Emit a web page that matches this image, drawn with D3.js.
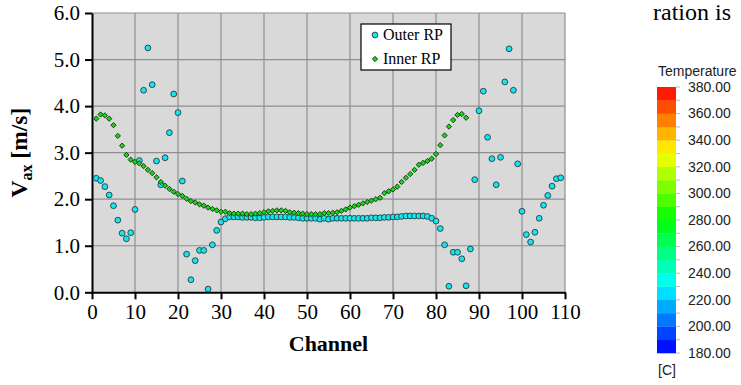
<!DOCTYPE html>
<html>
<head>
<meta charset="utf-8">
<script src="https://cdn.jsdelivr.net/npm/d3@7"></script>
<style>
  body { margin: 0; background: #fff; }
  svg { display: block; }
</style>
</head>
<body>
<div id="chart"></div>
<script>
// Outer RP, channels 1..109
const outerRP = [
  2.45, 2.40, 2.27, 2.09, 1.86, 1.55, 1.27, 1.15, 1.28, 1.78,
  2.83, 4.34, 5.25, 4.46, 2.82, 2.31, 2.89, 3.43, 4.26, 3.86,
  2.39, 0.82, 0.27, 0.68, 0.90, 0.90, 0.07, 1.02, 1.33, 1.51,
  1.58, 1.62, 1.62, 1.62, 1.61, 1.61, 1.61, 1.60, 1.60, 1.61,
  1.62, 1.62, 1.62, 1.62, 1.62, 1.61, 1.61, 1.60, 1.59, 1.59,
  1.59, 1.59, 1.57, 1.59, 1.57, 1.59, 1.59, 1.59, 1.59, 1.59,
  1.59, 1.59, 1.59, 1.59, 1.60, 1.60, 1.60, 1.61, 1.61, 1.62,
  1.62, 1.63, 1.64, 1.64, 1.64, 1.64, 1.64, 1.63, 1.59, 1.53,
  1.37, 1.02, 0.13, 0.86, 0.86, 0.72, 0.14, 0.93, 2.42, 3.90,
  4.32, 3.33, 2.87, 2.31, 2.90, 4.52, 5.23, 4.34, 2.76, 1.74,
  1.24, 1.08, 1.29, 1.59, 1.87, 2.08, 2.28, 2.44, 2.46
];

// Inner RP, channels 1..87
const innerRP = [
  3.73, 3.82, 3.80, 3.73, 3.59, 3.36, 3.15, 2.95, 2.85, 2.80,
  2.77, 2.71, 2.63, 2.56, 2.47, 2.37, 2.29, 2.22, 2.16, 2.11,
  2.07, 2.01, 1.96, 1.93, 1.89, 1.86, 1.82, 1.79, 1.76, 1.73,
  1.73, 1.70, 1.69, 1.69, 1.69, 1.68, 1.68, 1.69, 1.70, 1.72,
  1.74, 1.75, 1.76, 1.76, 1.75, 1.72, 1.71, 1.70, 1.69, 1.68,
  1.68, 1.68, 1.68, 1.70, 1.70, 1.71, 1.72, 1.75, 1.78, 1.82,
  1.85, 1.88, 1.91, 1.94, 1.97, 2.00, 2.03, 2.13, 2.17, 2.21,
  2.27, 2.37, 2.46, 2.54, 2.63, 2.74, 2.78, 2.82, 2.87, 2.97,
  3.16, 3.37, 3.56, 3.70, 3.81, 3.83, 3.75
];

const xTicks = [0, 10, 20, 30, 40, 50, 60, 70, 80, 90, 100, 110];
const yTicks = [0, 1, 2, 3, 4, 5, 6];
const seriesNames = ["Outer RP", "Inner RP"];

// temperature legend (side panel)
const tempLabels = [380, 360, 340, 320, 300, 280, 260, 240, 220, 200, 180];
const tempBands = 20;

const width = 741, height = 385;
const margin = {left: 92, right: 176, top: 13, bottom: 93};

const svg = d3.select("#chart").append("svg")
  .attr("width", width)
  .attr("height", height);

const x = d3.scaleLinear().domain([0, 110]).range([margin.left, width - margin.right]);
const y = d3.scaleLinear().domain([0, 6]).range([height - margin.bottom + 0.3, margin.top]);

const serif = "'Liberation Serif', 'Times New Roman', serif";
const sans = "'Liberation Sans', Arial, sans-serif";

// plot background
svg.append("rect")
  .attr("x", x(0)).attr("y", y(6))
  .attr("width", x(110) - x(0)).attr("height", y(0) - y(6))
  .attr("fill", "#d9d9d9");

// grid
svg.append("g").selectAll("line.vg")
  .data(xTicks.slice(1))
  .enter().append("line")
  .attr("x1", d => x(d)).attr("x2", d => x(d))
  .attr("y1", y(0)).attr("y2", y(6))
  .attr("stroke", "#8f8f8f").attr("stroke-width", 1.2);

svg.append("g").selectAll("line.hg")
  .data(yTicks.slice(1))
  .enter().append("line")
  .attr("x1", x(0)).attr("x2", x(110))
  .attr("y1", d => y(d)).attr("y2", d => y(d))
  .attr("stroke", "#8f8f8f").attr("stroke-width", 1.2);

// axes
const xAxis = svg.append("g")
  .attr("transform", `translate(0,${y(0)})`)
  .call(d3.axisBottom(x).tickValues(xTicks).tickSize(7).tickSizeOuter(0).tickFormat(d3.format("d")));
const yAxis = svg.append("g")
  .attr("transform", `translate(${x(0)},0)`)
  .call(d3.axisLeft(y).tickValues(yTicks).tickSize(7).tickSizeOuter(0).tickFormat(d3.format(".1f")));

[xAxis, yAxis].forEach(a => {
  a.select(".domain").attr("stroke", "#000").attr("stroke-width", 2);
  a.selectAll(".tick line").attr("stroke", "#000").attr("stroke-width", 2);
  a.selectAll(".tick text")
    .attr("font-family", serif).attr("font-size", 21).attr("fill", "#000");
});
xAxis.selectAll(".tick text").attr("dy", "0.71em").attr("y", 12);
yAxis.selectAll(".tick text").attr("x", -12);

// axis titles
svg.append("text")
  .attr("x", (x(0) + x(110)) / 2).attr("y", 351)
  .attr("text-anchor", "middle")
  .attr("font-family", serif).attr("font-size", 22).attr("font-weight", "bold")
  .text("Channel");

const yt = svg.append("text")
  .attr("transform", `translate(27,${(y(0) + y(6)) / 2}) rotate(-90)`)
  .attr("text-anchor", "middle")
  .attr("font-family", serif).attr("font-size", 23.5).attr("font-weight", "bold");
yt.append("tspan").text("V");
yt.append("tspan").attr("font-size", 16).attr("dy", 5).text("ax");
yt.append("tspan").attr("dy", -5).text(" [m/s]");

// markers
const diamondPath = d3.symbol().type(d3.symbolSquare).size(14);

svg.append("g").selectAll("circle")
  .data(outerRP)
  .enter().append("circle")
  .attr("cx", (d, i) => x(i + 1))
  .attr("cy", d => y(d))
  .attr("r", 2.9)
  .attr("fill", "#14e6ef")
  .attr("stroke", "#2a3a3a").attr("stroke-width", 0.9);

svg.append("g").selectAll("path")
  .data(innerRP)
  .enter().append("path")
  .attr("d", diamondPath)
  .attr("transform", (d, i) => `translate(${x(i + 1)},${y(d)}) rotate(45)`)
  .attr("fill", "#14d814")
  .attr("stroke", "#1a3a1a").attr("stroke-width", 0.9);

// legend
const lg = svg.append("g").attr("transform", "translate(361,24)");
lg.append("rect").attr("width", 90).attr("height", 46)
  .attr("fill", "#fff").attr("stroke", "#000").attr("stroke-width", 1.2);
lg.append("circle").attr("cx", 14).attr("cy", 11).attr("r", 2.9)
  .attr("fill", "#14e6ef").attr("stroke", "#2a3a3a").attr("stroke-width", 0.9);
lg.append("path").attr("d", diamondPath)
  .attr("transform", "translate(14,35) rotate(45)")
  .attr("fill", "#14d814").attr("stroke", "#1a3a1a").attr("stroke-width", 0.9);
lg.selectAll("text.lt")
  .data(seriesNames)
  .enter().append("text")
  .attr("x", 22).attr("y", (d, i) => 16 + i * 24)
  .attr("font-family", serif).attr("font-size", 16)
  .text(d => d);

// fragment of surrounding page text
svg.append("text")
  .attr("x", 653).attr("y", 20)
  .attr("font-family", serif).attr("font-size", 24)
  .text("ration is");

// temperature colour bar
const barTop = 87, barBot = 353, barX = 657, barW = 19;
const tY = d3.scaleLinear().domain([180, 380]).range([barBot, barTop]);
const hue = d3.scaleLinear().domain([0, tempBands - 1]).range([236, 6]);
const bandH = (barBot - barTop) / tempBands;
svg.append("g").selectAll("rect")
  .data(d3.range(tempBands))
  .enter().append("rect")
  .attr("x", barX).attr("width", barW)
  .attr("y", i => barBot - (i + 1) * bandH).attr("height", bandH + 0.3)
  .attr("fill", i => d3.hsl(hue(i), 1, 0.5).toString());

svg.append("g").selectAll("line")
  .data(d3.range(tempBands + 1))
  .enter().append("line")
  .attr("x1", barX + barW).attr("x2", barX + barW + 4)
  .attr("y1", i => barBot - i * bandH).attr("y2", i => barBot - i * bandH)
  .attr("stroke", "#bbb").attr("stroke-width", 1);

svg.append("g").selectAll("text")
  .data(tempLabels)
  .enter().append("text")
  .attr("x", 688).attr("y", d => tY(d) + 1)
  .attr("dominant-baseline", "middle")
  .attr("font-family", sans).attr("font-size", 14).attr("fill", "#222")
  .text(d => d3.format(".2f")(d));

svg.append("text")
  .attr("x", 658).attr("y", 76)
  .attr("font-family", sans).attr("font-size", 14).attr("fill", "#222")
  .text("Temperature");
svg.append("text")
  .attr("x", 658).attr("y", 375)
  .attr("font-family", sans).attr("font-size", 14).attr("fill", "#222")
  .text("[C]");
</script>
</body>
</html>
